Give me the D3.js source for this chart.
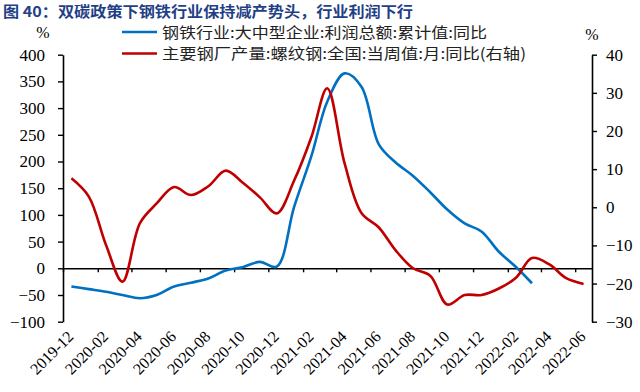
<!DOCTYPE html>
<html>
<head>
<meta charset="utf-8">
<script src="https://cdn.jsdelivr.net/npm/d3@7"></script>
<style>
  body { margin: 0; background: #fff; }
  svg { display: block; }
</style>
</head>
<body>
<svg id="chart" width="640" height="392"></svg>
<script>
// 月份 (2019-12 ~ 2022-06)
const months = ["2019-12","2020-01","2020-02","2020-03","2020-04","2020-05","2020-06","2020-07",
  "2020-08","2020-09","2020-10","2020-11","2020-12","2021-01","2021-02","2021-03","2021-04",
  "2021-05","2021-06","2021-07","2021-08","2021-09","2021-10","2021-11","2021-12","2022-01",
  "2022-02","2022-03","2022-04","2022-05","2022-06"];

// 钢铁行业:大中型企业:利润总额:累计值:同比 (左轴, 到 2022-03)
const profitYoy = [-34, -39, -44, -50, -56, -50, -34, -27, -19, -4, 2, 12, 3, 115, 211, 312,
  365, 340, 232, 198, 173, 142, 110, 84, 69, 31, 2, -28];

// 主要钢厂产量:螺纹钢:全国:当周值:月:同比 (右轴)
const rebarYoy = [7.6, 2.8, -10, -19.5, -4.2, 1, 5.3, 3.2, 5.5, 9.6, 6.5, 2.6, -1.6, 7, 18.5,
  31.2, 11.5, -1.5, -5.3, -11.3, -16, -18, -25.5, -23, -23, -21.3, -18.4, -13.3, -15, -18.6, -20.1];

const xTickLabels = ["2019-12","2020-02","2020-04","2020-06","2020-08","2020-10","2020-12",
  "2021-02","2021-04","2021-06","2021-08","2021-10","2021-12","2022-02","2022-04","2022-06"];
const leftTicks = [-100, -50, 0, 50, 100, 150, 200, 250, 300, 350, 400];
const rightTicks = [-30, -20, -10, 0, 10, 20, 30, 40];

const title = "图 40：双碳政策下钢铁行业保持减产势头，行业利润下行";
const seriesNames = ["钢铁行业:大中型企业:利润总额:累计值:同比", "主要钢厂产量:螺纹钢:全国:当周值:月:同比(右轴)"];

const blue = "#0070c0", red = "#c00000";
const parseMonth = d3.timeParse("%Y-%m");
const midMonth = s => d3.timeDay.offset(parseMonth(s), 15);

const svg = d3.select("#chart");
const plotLeft = 63, plotRight = 592, plotTop = 54.7, plotBottom = 321.7;

const x = d3.scaleTime()
  .domain([parseMonth("2019-12"), parseMonth("2022-07")])
  .range([plotLeft, plotRight]);
const yL = d3.scaleLinear().domain([-100, 400]).range([plotBottom, plotTop]);
const yR = d3.scaleLinear().domain([-30, 40]).range([plotBottom, plotTop]);

const serif = "'Times New Roman', 'Liberation Serif', serif";
const cjk = "'Noto Sans CJK SC', sans-serif";

// 标题
svg.append("text")
  .attr("x", 3).attr("y", 17)
  .attr("font-family", cjk).attr("font-weight", "bold").attr("font-size", 14.5)
  .attr("fill", "#1f3f86")
  .attr("textLength", 410).attr("lengthAdjust", "spacingAndGlyphs")
  .text(title);

// 左轴
const gL = svg.append("g").attr("transform", `translate(${plotLeft},0)`)
  .call(d3.axisLeft(yL).tickValues(leftTicks).tickSize(5).tickSizeOuter(0).tickPadding(13));
// 右轴
const gR = svg.append("g").attr("transform", `translate(${plotRight},0)`)
  .call(d3.axisRight(yR).tickValues(rightTicks).tickSize(5).tickSizeOuter(0).tickPadding(9));
[gL, gR].forEach(g => {
  g.select(".domain").attr("stroke-width", 1.6);
  g.selectAll(".tick line").attr("stroke-width", 1.4);
  g.selectAll("text").attr("font-family", serif).attr("font-size", 17).attr("fill", "#000");
});

// 零线 + 刻度
const gZero = svg.append("g").attr("transform", `translate(0,${yL(0)})`)
  .call(d3.axisBottom(x).tickValues(xTickLabels.map(parseMonth)).tickSize(4).tickSizeOuter(0).tickFormat(""));
gZero.select(".domain").attr("stroke-width", 1.4);
gZero.selectAll(".tick line").attr("stroke-width", 1.4);

// 底部日期标签
const gX = svg.append("g").attr("transform", `translate(0,${plotBottom})`)
  .call(d3.axisBottom(x).tickValues(xTickLabels.map(parseMonth)).tickSize(0)
    .tickFormat(d3.timeFormat("%Y-%m")));
gX.select(".domain").remove();
gX.selectAll("text")
  .attr("font-family", serif).attr("font-size", 16).attr("fill", "#000")
  .attr("text-anchor", "end").attr("y", null).attr("dy", null)
  .attr("transform", "translate(11,16) rotate(-45)");

// 折线
const lineL = d3.line().x((d, i) => x(midMonth(months[i]))).y(d => yL(d)).curve(d3.curveCatmullRom.alpha(0.5));
const lineR = d3.line().x((d, i) => x(midMonth(months[i]))).y(d => yR(d)).curve(d3.curveCatmullRom.alpha(0.5));

svg.append("path").datum(profitYoy)
  .attr("fill", "none").attr("stroke", blue).attr("stroke-width", 2.6).attr("d", lineL);
svg.append("path").datum(rebarYoy)
  .attr("fill", "none").attr("stroke", red).attr("stroke-width", 2.6).attr("d", lineR);

// 单位
svg.append("text").attr("x", 43).attr("y", 38).attr("text-anchor", "middle")
  .attr("font-family", serif).attr("font-size", 16).text("%");
svg.append("text").attr("x", 592).attr("y", 40).attr("text-anchor", "middle")
  .attr("font-family", serif).attr("font-size", 16).text("%");

// 图例
const legend = svg.append("g");
const legendEnds = [487, 526];
seriesNames.forEach((name, i) => {
  const ly = 32 + i * 21.5;
  legend.append("line").attr("x1", 122).attr("x2", 157).attr("y1", ly).attr("y2", ly)
    .attr("stroke", i === 0 ? blue : red).attr("stroke-width", 2.6);
  legend.append("text").attr("x", 162).attr("y", ly + 5.5)
    .attr("font-family", cjk).attr("font-size", 15).attr("fill", "#222")
    .attr("textLength", legendEnds[i] - 162).attr("lengthAdjust", "spacingAndGlyphs")
    .text(name);
});
</script>
</body>
</html>
